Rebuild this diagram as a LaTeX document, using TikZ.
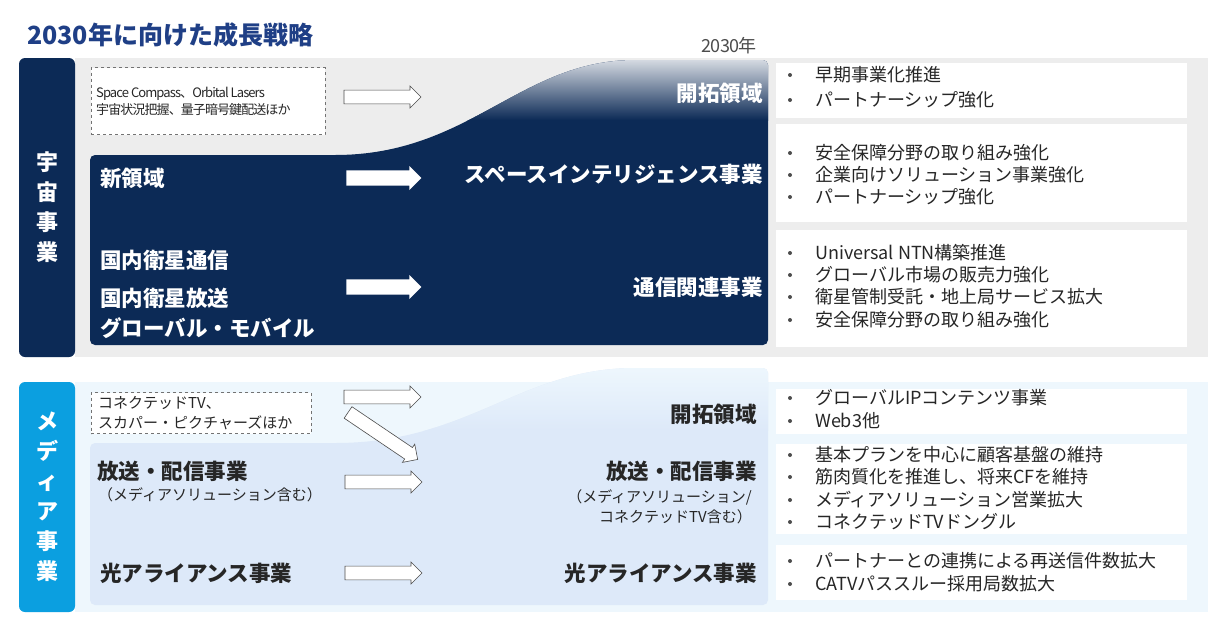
\documentclass[tikz,border=0pt]{standalone}
\usepackage{fontspec}
\setmainfont{Noto Sans CJK JP}
\usetikzlibrary{shapes.arrows}
\definecolor{navy}{HTML}{0C2A56}
\definecolor{ttl}{HTML}{1F3F86}
\definecolor{cyanb}{HTML}{0B9FE0}
\definecolor{mbg}{HTML}{EEF7FD}
\definecolor{mreg}{HTML}{DDE9F9}
\definecolor{sbg}{HTML}{EDEDED}
\tikzset{
 lbl/.style={font=\fontsize{21.5}{24}\selectfont\bfseries, inner sep=0pt},
 wl/.style={lbl, text=white, anchor=west},
 wr/.style={lbl, text=white, anchor=east},
 bl/.style={lbl, text=black!85, anchor=west},
 br/.style={lbl, text=black!85, anchor=east},
 bul/.style={font=\fontsize{18}{20}\selectfont, text=black!85, anchor=west, inner sep=0pt},
 dot/.style={circle, fill=black!70, inner sep=0pt, minimum size=4pt},
 side/.style={font=\fontsize{22}{30}\selectfont\bfseries, text=white, align=center, inner sep=0pt},
 barrow/.style={single arrow, draw=black!70, fill=white, minimum height=77pt, minimum width=22pt, single arrow head extend=4pt, single arrow head indent=0pt, inner xsep=0pt, inner ysep=6.5pt, line width=0.6pt},
 sarrow/.style={single arrow, fill=white, minimum height=75pt, minimum width=24pt, single arrow head extend=4pt, inner xsep=0pt, inner ysep=7pt},
 dbox/.style={draw=black!55, dashed, fill=white, inner sep=0pt},
}
\newcommand{\bullets}[2]{\node[dot] at (790,#1) {};\node[bul] at (815,#1) {#2};}
\begin{document}
\begin{tikzpicture}[x=1pt,y=-1pt]
\useasboundingbox (0,0) rectangle (1217,616);
\fill[white] (0,0) rectangle (1217,616);
\node[anchor=west, text=ttl, font=\fontsize{25}{28}\selectfont\bfseries, inner sep=0pt] (title) at (27,35) {2030年に向けた成長戦略};
\node[text=black!70, font=\fontsize{18}{20}\selectfont, inner sep=0pt] (y2030) at (729,46) {\addfontfeature{LetterSpace=-5}2030年};
% space section
\fill[sbg] (75,58) rectangle (1208,357);
\fill[navy, rounded corners=6] (19,58) rectangle (75,357);
\node[side] (space) at (47,207) {宇\\宙\\事\\業};
\begin{scope}
\clip[rounded corners=5] (90,345) -- (90,155) -- (330,155) .. controls (470,155) and (520,60) .. (640,60) -- (768,60) -- (768,345) -- cycle;
\fill[navy] (80,50) rectangle (780,350);
\shade[top color=white!85!navy, bottom color=navy] (300,58) rectangle (770,120);
\end{scope}
\node[dbox, minimum width=234pt, minimum height=67pt] (sbox) at (208,101) {};
\node[anchor=west, font=\fontsize{13}{17}\selectfont, inner sep=0pt, align=left, text=black!85] (stxt) at (96,101) {\addfontfeature{LetterSpace=-7}Space Compass、Orbital Lasers\\\addfontfeature{LetterSpace=-7}宇宙状況把握、量子暗号鍵配送ほか};
\node[barrow] (a1) at (379,97) {};
\node[sarrow] (a2) at (380,178) {};
\node[sarrow] (a3) at (380,287) {};
\node[wr] (t1) at (763,93) {開拓領域};
\node[wr] (t2) at (763,174) {スペースインテリジェンス事業};
\node[wr] (t3) at (763,287) {通信関連事業};
\node[wl] (l1) at (100,178) {新領域};
\node[wl] (l2) at (100,260) {国内衛星通信};
\node[wl] (l3) at (100,298) {国内衛星放送};
\node[wl] (l4) at (100,328) {グローバル・モバイル};
\fill[white] (776,63) rectangle (1187,118);
\fill[white] (776,124) rectangle (1187,222);
\fill[white] (776,230) rectangle (1187,347);
\bullets{75}{早期事業化推進}
\bullets{100}{パートナーシップ強化}
\bullets{153}{安全保障分野の取り組み強化}
\bullets{175}{企業向けソリューション事業強化}
\bullets{197}{パートナーシップ強化}
\bullets{253}{Universal NTN構築推進}
\bullets{275}{グローバル市場の販売力強化}
\bullets{297}{衛星管制受託・地上局サービス拡大}
\bullets{320}{安全保障分野の取り組み強化}
% media section
\fill[mbg] (75,382) rectangle (1208,612);
\fill[cyanb, rounded corners=6] (19,382) rectangle (75,612);
\node[side] (media) at (47,497) {メ\\デ\\ィ\\ア\\事\\業};
\begin{scope}
\clip[rounded corners=5] (90,605) -- (90,443) -- (330,443) .. controls (470,443) and (520,368) .. (640,368) -- (768,368) -- (768,605) -- cycle;
\fill[mreg] (80,360) rectangle (780,610);
\shade[top color=mbg, bottom color=mreg] (300,366) rectangle (770,430);
\end{scope}
\node[dbox, minimum width=220pt, minimum height=41pt] (mbox) at (201,413) {};
\node[anchor=west, font=\fontsize{15}{20}\selectfont, inner sep=0pt, align=left, text=black!85] (mtxt) at (98,413) {コネクテッドTV、\\スカパー・ピクチャーズほか};
\node[barrow] (b1) at (379,397) {};
\node[barrow, rotate=-34, minimum height=84pt] (b2) at (380,434) {};
\node[barrow] (b3) at (380,482) {};
\node[barrow] (b4) at (380,573) {};
\node[br] (u1) at (757,414) {開拓領域};
\node[br] (u2) at (757,471) {放送・配信事業};
\node[anchor=east, font=\fontsize{15}{20}\selectfont, inner sep=0pt, align=right, text=black!85] (u2s) at (752,507) {（メディアソリューション/\\コネクテッドTV含む）};
\node[br] (u3) at (757,573) {光アライアンス事業};
\node[bl] (m1) at (97,471) {放送・配信事業};
\node[anchor=west, font=\fontsize{15}{18}\selectfont, inner sep=0pt, text=black!85] (m1s) at (98,495) {（メディアソリューション含む）};
\node[bl] (m2) at (100,573) {光アライアンス事業};
\fill[white] (776,389) rectangle (1187,434);
\fill[white] (776,444) rectangle (1187,534);
\fill[white] (776,545) rectangle (1187,600);
\bullets{398}{グローバルIPコンテンツ事業}
\bullets{421}{Web3他}
\bullets{455}{基本プランを中心に顧客基盤の維持}
\bullets{477}{筋肉質化を推進し、将来CFを維持}
\bullets{500}{メディアソリューション営業拡大}
\bullets{522}{コネクテッドTVドングル}
\bullets{561}{パートナーとの連携による再送信件数拡大}
\bullets{584}{CATVパススルー採用局数拡大}
\end{tikzpicture}
\end{document}
